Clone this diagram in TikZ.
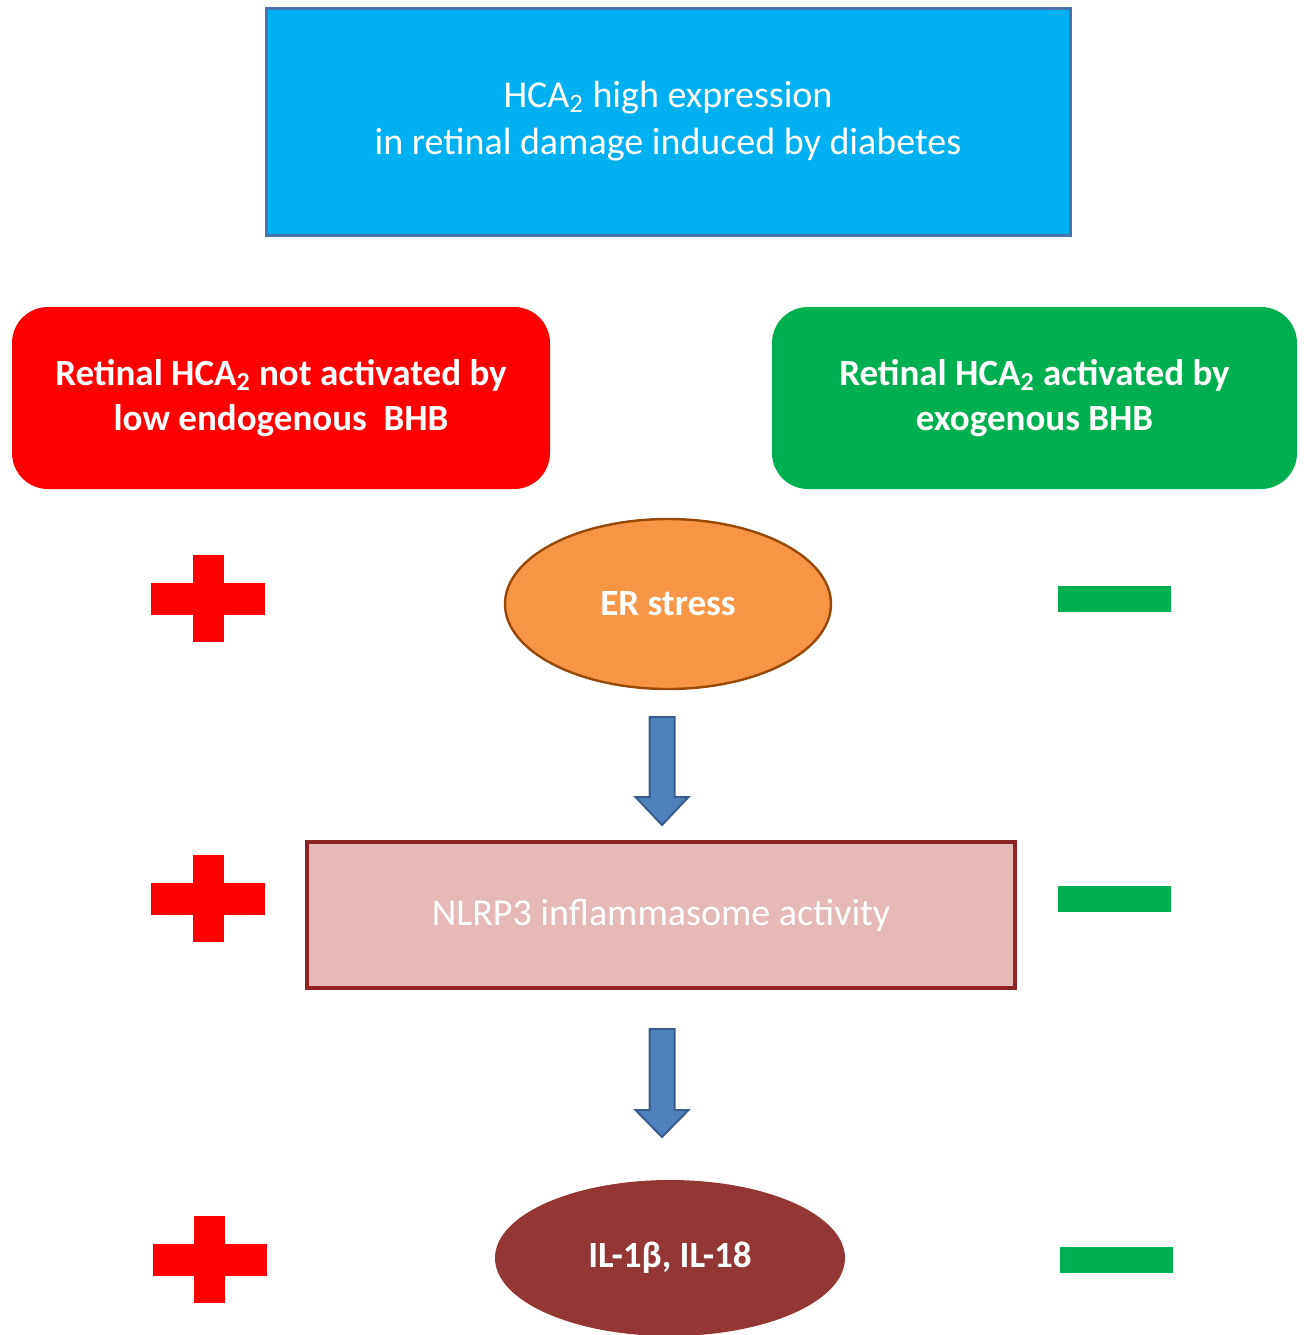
\documentclass[tikz,border=0pt]{standalone}
\usepackage{fontspec}
\setmainfont{Carlito}
\usetikzlibrary{shapes.geometric}
\definecolor{topblue}{HTML}{00B0F0}
\definecolor{topborder}{HTML}{4A72AE}
\definecolor{redbox}{HTML}{FF0000}
\definecolor{greenbox}{HTML}{00B050}
\definecolor{orangefill}{HTML}{F79646}
\definecolor{orangeborder}{HTML}{984807}
\definecolor{pinkfill}{HTML}{E6B9B8}
\definecolor{pinkborder}{HTML}{8E2424}
\definecolor{brownfill}{HTML}{943634}
\definecolor{arrowfill}{HTML}{4F81BD}
\definecolor{arrowborder}{HTML}{385D8A}
\tikzset{
  txt/.style={text=white, align=center, inner sep=0pt},
  boldtxt/.style={txt, font=\bfseries\fontsize{18.5}{22.5}\selectfont},
  regtxt/.style={txt, font=\fontsize{19}{23.5}\selectfont},
  roundbox/.style={rectangle, rounded corners=18pt, minimum height=91pt},
  blockarrow/.style={fill=arrowfill, draw=arrowborder, line width=1pt, line join=miter},
  plusbar/.style={fill=redbox},
  minusbar/.style={fill=greenbox},
}
\newcommand{\plusmark}[2]{%
  \fill[plusbar] (#1-57,#2-16) rectangle (#1+57,#2+16);
  \fill[plusbar] (#1-15.5,#2-43.5) rectangle (#1+15.5,#2+43.5);}
\newcommand{\minusmark}[2]{%
  \fill[minusbar] (#1-56.5,#2-13) rectangle (#1+56.5,#2+13);}
\begin{document}
\begin{tikzpicture}[x=0.5pt,y=-0.5pt]
\useasboundingbox (0,0) rectangle (1303,1335);
% top box
\node[rectangle, fill=topblue, draw=topborder, line width=1.5pt,
      minimum width=402pt, minimum height=113.5pt] (top) at (668,121.5) {};
\node[regtxt] (toptext) at (668,121) {HCA\textsubscript{2} high expression\\in retinal damage induced by diabetes};
% side boxes
\node[roundbox, fill=redbox, minimum width=269pt] (left) at (281,398) {};
\node[boldtxt] (lefttext) at (281,398) {Retinal HCA\textsubscript{2} not activated by\\low endogenous\ \ BHB};
\node[roundbox, fill=greenbox, minimum width=262.5pt] (right) at (1034.5,398) {};
\node[boldtxt] (righttext) at (1034.5,398) {Retinal HCA\textsubscript{2} activated by\\exogenous BHB};
% ER stress
\node[ellipse, fill=orangefill, draw=orangeborder, line width=1.2pt,
      minimum width=163pt, minimum height=85pt, boldtxt] (er) at (668,604) {ER stress};
% NLRP3
\node[rectangle, fill=pinkfill, draw=pinkborder, line width=2pt,
      minimum width=354pt, minimum height=73pt, regtxt] (nlrp) at (661,915) {NLRP3 inflammasome activity};
% IL
\node[ellipse, fill=brownfill, minimum width=175pt, minimum height=78pt, boldtxt] (il) at (670,1258) {IL-1β, IL-18};
% block arrows
\coordinate (a1) at (662,717);
\draw[blockarrow] (a1) ++(-12.5,0) -- ++(25,0) -- ++(0,80) -- ++(14,0) -- ++(-26.5,28) -- ++(-26.5,-28) -- ++(14,0) -- cycle;
\coordinate (a2) at (662,1029);
\draw[blockarrow] (a2) ++(-12.5,0) -- ++(25,0) -- ++(0,81) -- ++(14,0) -- ++(-26.5,27) -- ++(-26.5,-27) -- ++(14,0) -- cycle;
% plus and minus signs
\plusmark{208}{598.5}
\plusmark{208}{898.5}
\plusmark{209.5}{1259.5}
\minusmark{1114.5}{599}
\minusmark{1114.5}{898.5}
\minusmark{1116.5}{1259.5}
\end{tikzpicture}
\end{document}
